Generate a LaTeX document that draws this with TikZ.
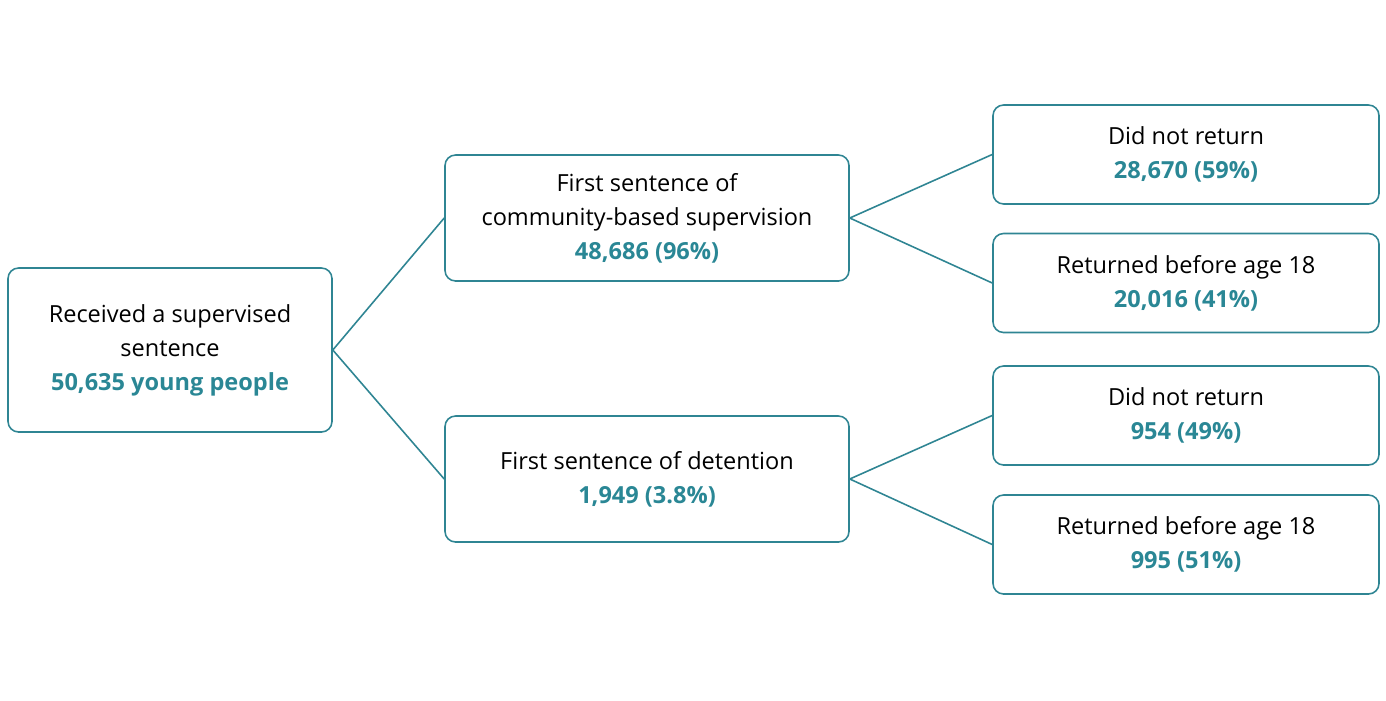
\documentclass[tikz,border=0pt]{standalone}
\usepackage{fontspec}
\setmainfont{Open Sans}
\definecolor{teal1}{HTML}{2A8795}
\definecolor{edge1}{HTML}{2F8593}
\begin{document}
\begin{tikzpicture}[x=0.02cm,y=-0.02cm,
    box/.style={draw=edge1, line width=0.9pt, rounded corners=6pt, align=center,
      font=\fontsize{13.4pt}{19.3pt}\selectfont, inner sep=0pt},
    link/.style={draw=edge1, line width=0.9pt},
    num/.style={}]
    \useasboundingbox (0,0) rectangle (1386,700);
    \newcommand{\num}[1]{{\color{teal1}\bfseries\mdseries\fontseries{sb}\selectfont #1}}
    \node[box, minimum width=324*0.02cm, minimum height=164*0.02cm] (recv) at (170,350)
      {Received a supervised\\sentence\\{\color{teal1}\bfseries 50,635 young people}};
    \node[box, minimum width=404*0.02cm, minimum height=126*0.02cm] (comm) at (647,218)
      {First sentence of\\community-based supervision\\{\color{teal1}\bfseries 48,686 (96\%)}};
    \node[box, minimum width=404*0.02cm, minimum height=126*0.02cm] (det) at (647,479)
      {First sentence of detention\\{\color{teal1}\bfseries 1,949 (3.8\%)}};
    \node[box, minimum width=386*0.02cm, minimum height=99*0.02cm] (commno) at (1186,154.5)
      {Did not return\\{\color{teal1}\bfseries 28,670 (59\%)}};
    \node[box, minimum width=386*0.02cm, minimum height=99*0.02cm] (commret) at (1186,283)
      {Returned before age 18\\{\color{teal1}\bfseries 20,016 (41\%)}};
    \node[box, minimum width=386*0.02cm, minimum height=99*0.02cm] (detno) at (1186,415.5)
      {Did not return\\{\color{teal1}\bfseries 954 (49\%)}};
    \node[box, minimum width=386*0.02cm, minimum height=99*0.02cm] (detret) at (1186,544.5)
      {Returned before age 18\\{\color{teal1}\bfseries 995 (51\%)}};
    % connectors
    \draw[link] (recv.east) -- (comm.west);
    \draw[link] (recv.east) -- (det.west);
    \draw[link] (comm.east) -- (commno.west);
    \draw[link] (comm.east) -- (commret.west);
    \draw[link] (det.east) -- (detno.west);
    \draw[link] (det.east) -- (detret.west);
\end{tikzpicture}
\end{document}
